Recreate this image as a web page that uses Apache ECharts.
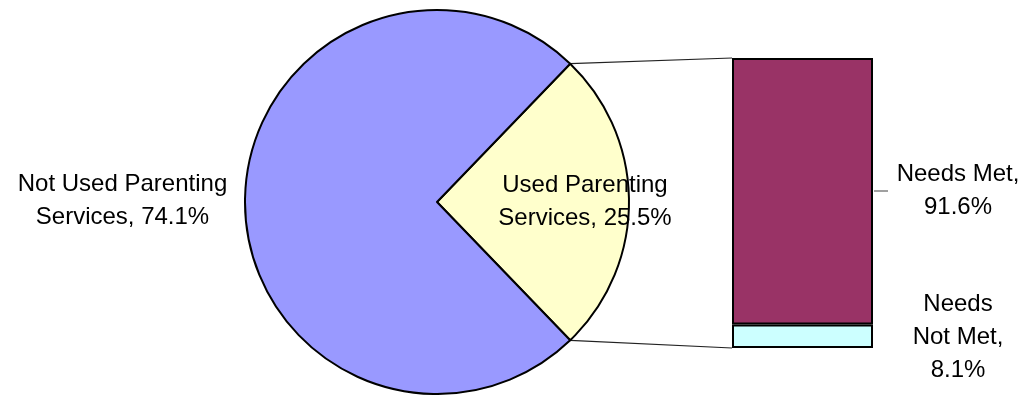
<!DOCTYPE html>
<html><head><meta charset="utf-8">
<script src="https://cdn.jsdelivr.net/npm/echarts@6/dist/echarts.min.js"></script>
<style>html,body{margin:0;padding:0;background:#fff}#c{width:1028px;height:395px}</style>
</head><body><div id="c"></div>
<script>
const pieNames = ['Used Parenting\nServices', 'Not Used Parenting\nServices'];
const pieValues = [25.5, 74.1];
const barNames = ['Needs\nNot Met', 'Needs Met'];
const barValues = [8.1, 91.6];
const barCategory = ['Used Parenting Services'];

const colorsPie = ['#FFFFCC', '#9999FF'];
const colorsBar = ['#CCFFFF', '#993366'];

const chart = echarts.init(document.getElementById('c'), null, {renderer: 'canvas'});
const cx = 437, cy = 202, R = 192;
const total = pieValues.reduce((a, b) => a + b, 0);
const usedAngle = pieValues[0] / total * 360;
const startAngle = usedAngle / 2;
const barTotal = barValues.reduce((a, b) => a + b, 0);

const pieLabelPos = [[585, 201.5], [122.5, 200.5]];
const barLabelPos = [[958, 337.5], [958, 191]];
const font = {fontFamily: 'Liberation Sans, Arial, sans-serif', fontSize: 24, lineHeight: 33, color: '#000'};

const option = {
  animation: false,
  grid: {left: 732, top: 58, width: 141, height: 290},
  xAxis: {type: 'category', data: barCategory, show: false},
  yAxis: {type: 'value', min: 0, max: barTotal, show: false},
  series: [
    {
      type: 'pie', center: [cx, cy], radius: R, startAngle: startAngle, clockwise: true,
      silent: true,
      data: pieNames.map((n, i) => ({name: n, value: pieValues[i], itemStyle: {color: colorsPie[i]}})),
      itemStyle: {borderColor: '#000', borderWidth: 2},
      label: Object.assign({position: 'inside', align: 'center',
        formatter: p => p.name + ', ' + p.value.toFixed(1) + '%'}, font),
      labelLine: {show: false},
      labelLayout: p => ({x: pieLabelPos[p.dataIndex][0], y: pieLabelPos[p.dataIndex][1], align: 'center', verticalAlign: 'middle'}),
      emphasis: {disabled: true}
    }
  ].concat(barNames.map((n, i) => ({
    type: 'bar', name: n, stack: 's', data: [barValues[i]], barWidth: '100%', silent: true,
    itemStyle: {color: colorsBar[i], borderColor: '#000', borderWidth: 2},
    label: Object.assign({show: true, position: 'right', align: 'center',
      formatter: p => p.seriesName + ',\n' + p.value.toFixed(1) + '%'}, font),
    labelLayout: () => ({x: barLabelPos[i][0], y: barLabelPos[i][1], align: 'center', verticalAlign: 'middle'}),
    emphasis: {disabled: true}
  })))
};
chart.setOption(option);

// connector lines from the pie slice edges to the bar corners
const toRad = Math.PI / 180;
const a1 = startAngle * toRad, a2 = (startAngle - usedAngle) * toRad;
const p1 = [cx + R * Math.cos(a1), cy - R * Math.sin(a1)];
const p2 = [cx + R * Math.cos(a2), cy - R * Math.sin(a2)];
const topL = chart.convertToPixel({gridIndex: 0}, [0, barTotal]);
const botL = chart.convertToPixel({gridIndex: 0}, [0, 0]);
const barLeft = 732, barRight = 873;
chart.setOption({
  graphic: [
    {type: 'line', shape: {x1: p1[0], y1: p1[1], x2: barLeft, y2: topL[1]}, style: {stroke: '#222', lineWidth: 1.2}, silent: true},
    {type: 'line', shape: {x1: p2[0], y1: p2[1], x2: barLeft, y2: botL[1]}, style: {stroke: '#222', lineWidth: 1.2}, silent: true},
    {type: 'line', shape: {x1: barRight + 1, y1: barLabelPos[1][1], x2: 888, y2: barLabelPos[1][1]}, style: {stroke: '#808080', lineWidth: 1.5}, silent: true}
  ]
});
</script>
</body></html>
